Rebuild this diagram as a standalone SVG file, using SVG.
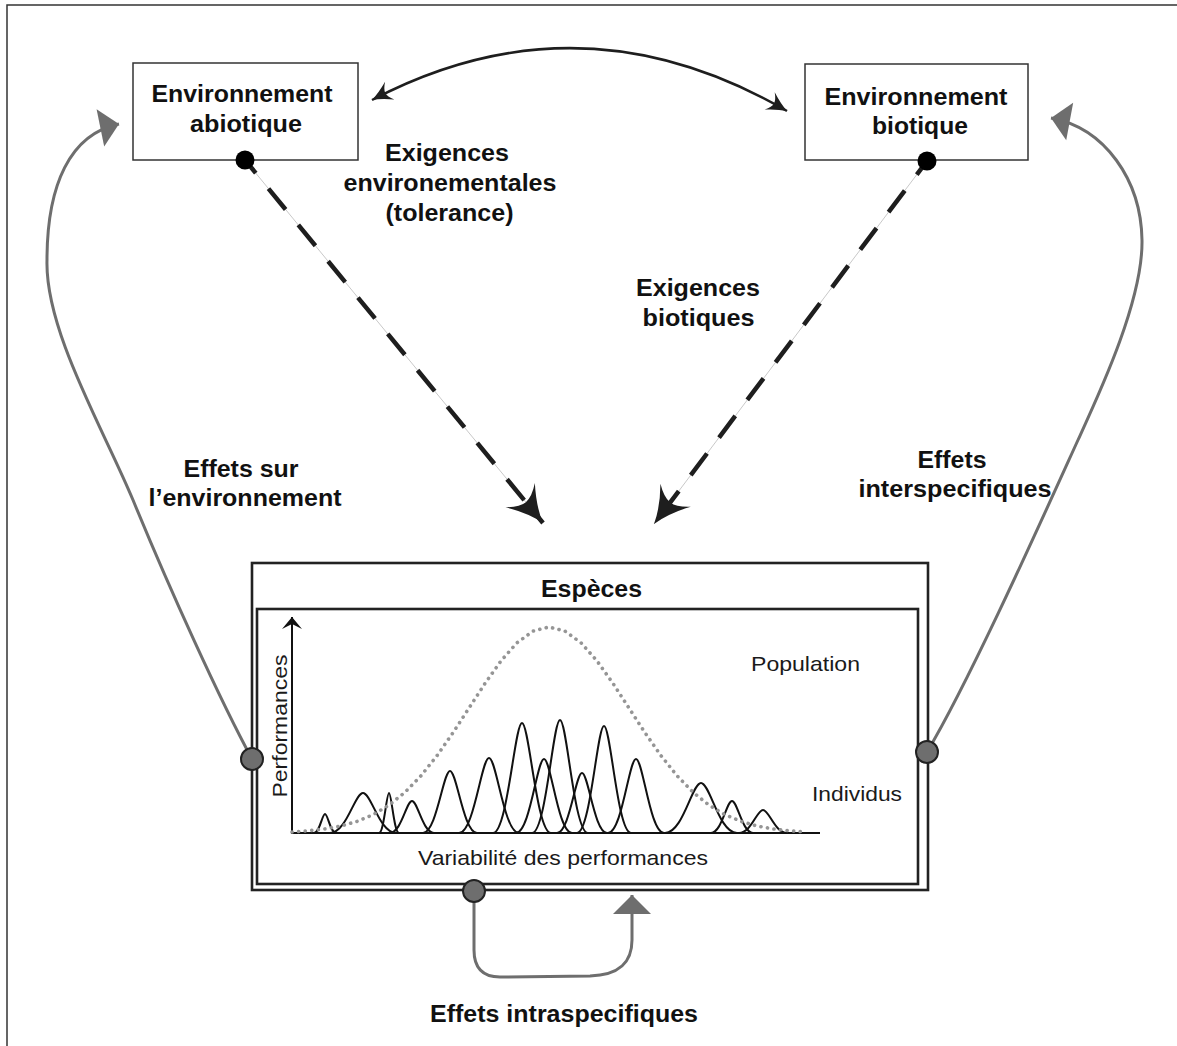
<svg xmlns="http://www.w3.org/2000/svg" width="1177" height="1046" viewBox="0 0 1177 1046">
<style>
.b{font-family:"Liberation Sans",Arial,sans-serif;font-weight:bold;font-size:23px;fill:#111;text-anchor:middle}
.r{font-family:"Liberation Sans",Arial,sans-serif;font-size:21px;fill:#1a1a1a;text-anchor:middle}
.envbox{fill:#fff;stroke:#333;stroke-width:1.5}
.sp{fill:none;stroke:#222;stroke-width:2.6}
.gray{fill:none;stroke:#6e6e6e;stroke-width:3;marker-end:url(#tri)}
.dash{fill:none;stroke:#1e1e1e;stroke-width:4.5;stroke-dasharray:27 20;stroke-dashoffset:10;marker-end:url(#barb)}
.thin{fill:none;stroke:#c8c8c8;stroke-width:1}
.port{fill:#6e6e6e;stroke:#222;stroke-width:2}
.ind{fill:none;stroke:#111;stroke-width:2}
</style>
<defs>
<marker id="barb" markerUnits="userSpaceOnUse" orient="auto" refX="0" refY="0" markerWidth="50" markerHeight="50" viewBox="-40 -25 50 50">
<path d="M0,0 Q-17,-5 -36,-19 Q-27,-8 -27,0 Q-27,8 -36,19 Q-17,5 0,0 Z" fill="#1e1e1e"/>
</marker>
<marker id="sbarb" markerUnits="userSpaceOnUse" orient="auto-start-reverse" refX="0" refY="0" markerWidth="30" markerHeight="30" viewBox="-25 -15 30 30">
<path d="M0,0 Q-9,-3 -20,-10 Q-15,-4 -15,0 Q-15,4 -20,10 Q-9,3 0,0 Z" fill="#1e1e1e"/>
</marker>
<marker id="tri" markerUnits="userSpaceOnUse" orient="auto" refX="0" refY="0" markerWidth="30" markerHeight="50" viewBox="-25 -25 30 50">
<path d="M0,0 L-19,-19 L-19,19 Z" fill="#6e6e6e"/>
</marker>
<marker id="axis" markerUnits="userSpaceOnUse" orient="auto" refX="0" refY="0" markerWidth="20" markerHeight="24" viewBox="-15 -12 20 24">
<path d="M0,0 L-12,-10 L-7,0 L-12,10 Z" fill="#111"/>
</marker>
</defs>
<rect width="1177" height="1046" fill="#fff"/>
<polyline points="7,1046 7,5 1177,5" fill="none" stroke="#333" stroke-width="1.5"/>

<g id="node-abiotique">
<rect class="envbox" x="133" y="63" width="225" height="97"/>
<text class="b" x="242" y="102" textLength="181" lengthAdjust="spacingAndGlyphs">Environnement</text>
<text class="b" x="246" y="132" textLength="112" lengthAdjust="spacingAndGlyphs">abiotique</text>
</g>

<g id="node-biotique">
<rect class="envbox" x="805" y="64" width="223" height="96"/>
<text class="b" x="916" y="105" textLength="183" lengthAdjust="spacingAndGlyphs">Environnement</text>
<text class="b" x="920" y="134" textLength="96" lengthAdjust="spacingAndGlyphs">biotique</text>
</g>

<g id="node-especes">
<rect class="sp" x="252" y="563" width="676" height="327"/>
<rect class="sp" x="257" y="609" width="661" height="275"/>
<text class="b" x="591.5" y="597" textLength="101" lengthAdjust="spacingAndGlyphs">Espèces</text>
<line x1="292" y1="833" x2="292" y2="617" stroke="#111" stroke-width="2" marker-end="url(#axis)"/>
<line x1="291" y1="833" x2="820" y2="833" stroke="#111" stroke-width="2.2"/>
<g id="individus">
<path class="ind" d="M314,833 C319.5,833 322.25,814 325,814 S330.5,833 336,833"/>
<path class="ind" d="M330,833 C346.5,833 354.75,793 363,793 S379.5,833 396,833"/>
<path class="ind" d="M379,833 C384,833 386.5,793 389,793 S394,833 399,833"/>
<path class="ind" d="M390,833 C401,833 406.5,801 412,801 S423,833 434,833"/>
<path class="ind" d="M423,833 C436.5,833 443.25,771 450,771 S463.5,833 477,833"/>
<path class="ind" d="M459,833 C474,833 481.5,758 489,758 S504,833 519,833"/>
<path class="ind" d="M493,833 C507.5,833 514.75,723 522,723 S536.5,833 551,833"/>
<path class="ind" d="M516,833 C530,833 537,759 544,759 S558,833 572,833"/>
<path class="ind" d="M532,833 C546,833 553,720 560,720 S574,833 588,833"/>
<path class="ind" d="M557,833 C569.5,833 575.75,773 582,773 S594.5,833 607,833"/>
<path class="ind" d="M577,833 C590.5,833 597.25,726 604,726 S617.5,833 631,833"/>
<path class="ind" d="M608,833 C622,833 629,759 636,759 S650,833 664,833"/>
<path class="ind" d="M665,833 C683,833 692,783 701,783 S719,833 737,833"/>
<path class="ind" d="M711,833 C721.5,833 726.75,801 732,801 S742.5,833 753,833"/>
<path class="ind" d="M739,833 C751,833 757,810 763,810 S775,833 787,833"/>
</g>
<polyline id="population" points="292,832 309,830.7 325,828.9 341,826 357,821.4 373,814.7 389,805.1 405,792.2 421,775.7 437,755.7 453,732.7 469,708.1 485,683.4 501,660.9 517,642.8 533,631.1 549,627 565,631.1 581,642.8 597,660.9 613,683.4 629,708.1 645,732.7 661,755.7 677,775.7 693,792.2 709,805.1 725,814.7 741,821.4 757,826 773,828.9 789,830.7 806,832" fill="none" stroke="#959595" stroke-width="3.6" stroke-dasharray="0.1 6.5" stroke-linecap="round" stroke-linejoin="round"/>
<text class="r" x="805.5" y="671" textLength="109" lengthAdjust="spacingAndGlyphs">Population</text>
<text class="r" x="857" y="801" textLength="90" lengthAdjust="spacingAndGlyphs">Individus</text>
<text class="r" x="563" y="865" textLength="290" lengthAdjust="spacingAndGlyphs">Variabilité des performances</text>
<text class="r" transform="translate(287,726) rotate(-90)" x="0" y="0" textLength="143" lengthAdjust="spacingAndGlyphs">Performances</text>
</g>

<g id="connectors">
<path d="M372,100 Q580,-9 787,111" fill="none" stroke="#1e1e1e" stroke-width="2.5" marker-start="url(#sbarb)" marker-end="url(#sbarb)"/>
<path class="thin" d="M245,160 L543,523"/>
<path class="dash" d="M245,160 L543,523"/>
<path class="thin" d="M927,161 L654,524"/>
<path class="dash" d="M927,161 L654,524"/>
<path class="gray" d="M252,759 C220,700 170,590 133,500 C103,428 45,330 47,260 C47,185 70,134 119,124"/>
<path class="gray" d="M927,752 C970,680 1043,517 1078,440 C1100,392 1143,300 1142,240 C1141,180 1105,128 1051,118"/>
<path class="gray" d="M474,891 L474,950 Q474,977 500,977 L590,976 C620,975 632,962 632,940 L632,895"/>
<circle cx="245" cy="160" r="9.5" fill="#000"/>
<circle cx="927" cy="161" r="9.5" fill="#000"/>
<circle class="port" cx="252" cy="759" r="11"/>
<circle class="port" cx="927" cy="752" r="11"/>
<circle class="port" cx="474" cy="891" r="11"/>
</g>

<g id="labels">
<text class="b" x="447" y="161" textLength="124" lengthAdjust="spacingAndGlyphs">Exigences</text>
<text class="b" x="450" y="191" textLength="213" lengthAdjust="spacingAndGlyphs">environementales</text>
<text class="b" x="449.5" y="221" textLength="128" lengthAdjust="spacingAndGlyphs">(tolerance)</text>
<text class="b" x="698" y="296" textLength="124" lengthAdjust="spacingAndGlyphs">Exigences</text>
<text class="b" x="698.5" y="326" textLength="112" lengthAdjust="spacingAndGlyphs">biotiques</text>
<text class="b" x="241" y="477" textLength="115" lengthAdjust="spacingAndGlyphs">Effets sur</text>
<text class="b" x="245" y="506" textLength="193" lengthAdjust="spacingAndGlyphs">l’environnement</text>
<text class="b" x="952" y="468" textLength="69" lengthAdjust="spacingAndGlyphs">Effets</text>
<text class="b" x="955" y="497" textLength="193" lengthAdjust="spacingAndGlyphs">interspecifiques</text>
<text class="b" x="564" y="1022" textLength="268" lengthAdjust="spacingAndGlyphs">Effets intraspecifiques</text>
</g>
</svg>
